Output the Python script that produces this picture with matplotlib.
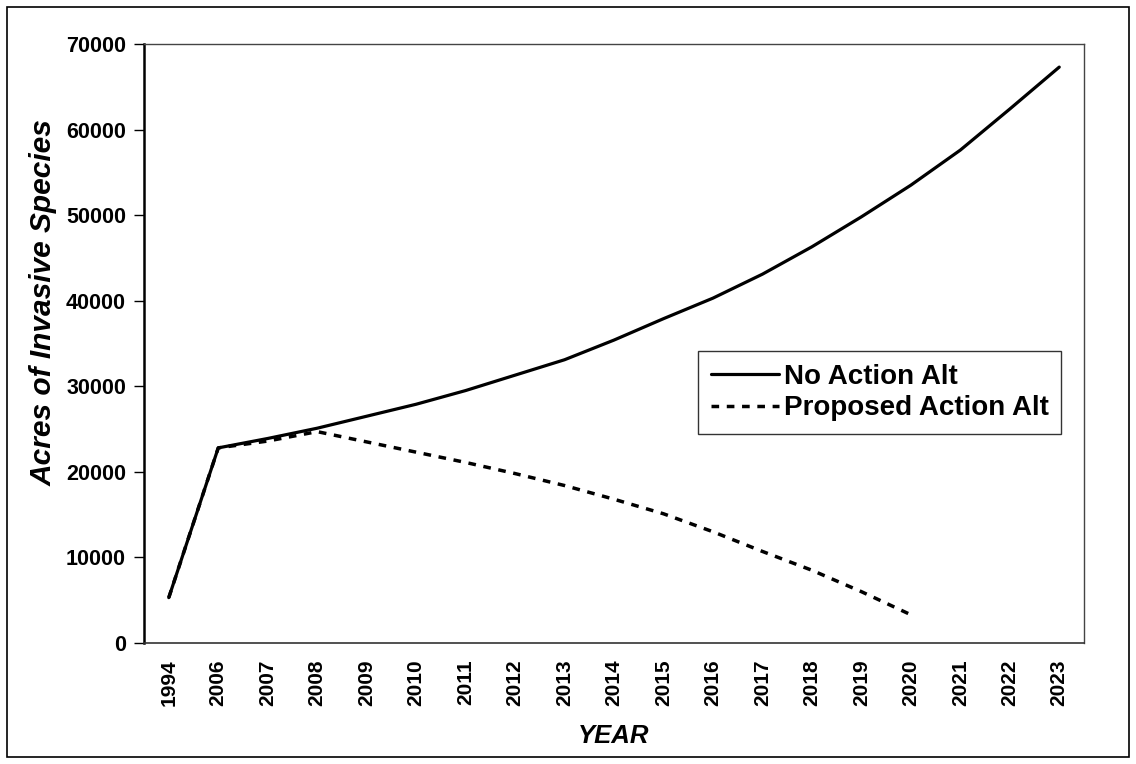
import matplotlib.pyplot as plt
from matplotlib.patches import Rectangle

plt.rcParams['font.family'] = ['Liberation Sans', 'DejaVu Sans']

# dados
anos = ['1994', '2006', '2007', '2008', '2009', '2010', '2011', '2012', '2013',
        '2014', '2015', '2016', '2017', '2018', '2019', '2020', '2021', '2022', '2023']
sem_acao = [5300, 22800, 23900, 25100, 26500, 27900, 29500, 31300, 33100,
            35400, 37900, 40300, 43100, 46300, 49800, 53500, 57600, 62400, 67300]
acao_proposta = [5300, 22800, 23600, 24700, 23500, 22300, 21100, 19800, 18400,
                 16800, 15100, 13000, 10700, 8500, 6000, 3300]

fig = plt.figure(figsize=(11.36, 7.64), dpi=100)
ax = fig.add_axes([0.1268, 0.1584, 0.8274, 0.784])

x1 = list(range(len(sem_acao)))
x2 = list(range(len(acao_proposta)))
ax.plot(x1, sem_acao, color='black', lw=2.3, label='No Action Alt',
        solid_joinstyle='round', solid_capstyle='round')
ax.plot(x2, acao_proposta, color='black', lw=2.5, linestyle=(0, (2.2, 2.2)),
        label='Proposed Action Alt')

ax.set_xlim(-0.5, len(anos) - 0.5)
ax.set_ylim(0, 70000)
ax.set_yticks(range(0, 70001, 10000))
ax.set_xticks(x1)
ax.set_xticklabels(anos, rotation=90, fontsize=15, fontweight='bold')
ax.tick_params(axis='x', length=0, pad=12)
ax.tick_params(axis='y', length=7, width=1, direction='out', pad=6)
for lab in ax.get_yticklabels():
    lab.set_fontsize(15.5)
    lab.set_fontweight('bold')

for lado in ['top', 'right']:
    ax.spines[lado].set_color('#444444')
    ax.spines[lado].set_linewidth(1)
ax.spines['left'].set_linewidth(1.8)
ax.spines['bottom'].set_linewidth(1.2)
ax.spines['bottom'].set_color('#333333')

ax.set_xlabel('YEAR', fontsize=18.5, fontweight='bold', fontstyle='italic', labelpad=13)
ax.set_ylabel('Acres of Invasive Species', fontsize=21.5, fontweight='bold',
              fontstyle='italic')
ax.yaxis.set_label_coords(-0.092, 0.569)

leg = ax.legend(loc='lower right', bbox_to_anchor=(0.9755, 0.349), fontsize=20,
                frameon=True, fancybox=False, edgecolor='black', handlelength=2.45,
                handletextpad=0.18, borderpad=0.45, labelspacing=0.2,
                borderaxespad=0)
leg.get_frame().set_linewidth(1)
for t in leg.get_texts():
    t.set_fontweight('bold')

# moldura externa
fig.patches.append(Rectangle((7 / 1136, 7 / 764), 1 - 14 / 1136, 1 - 14 / 764,
                             transform=fig.transFigure, fill=False,
                             edgecolor='black', lw=1.2))

fig.savefig('out.png', dpi=100)
